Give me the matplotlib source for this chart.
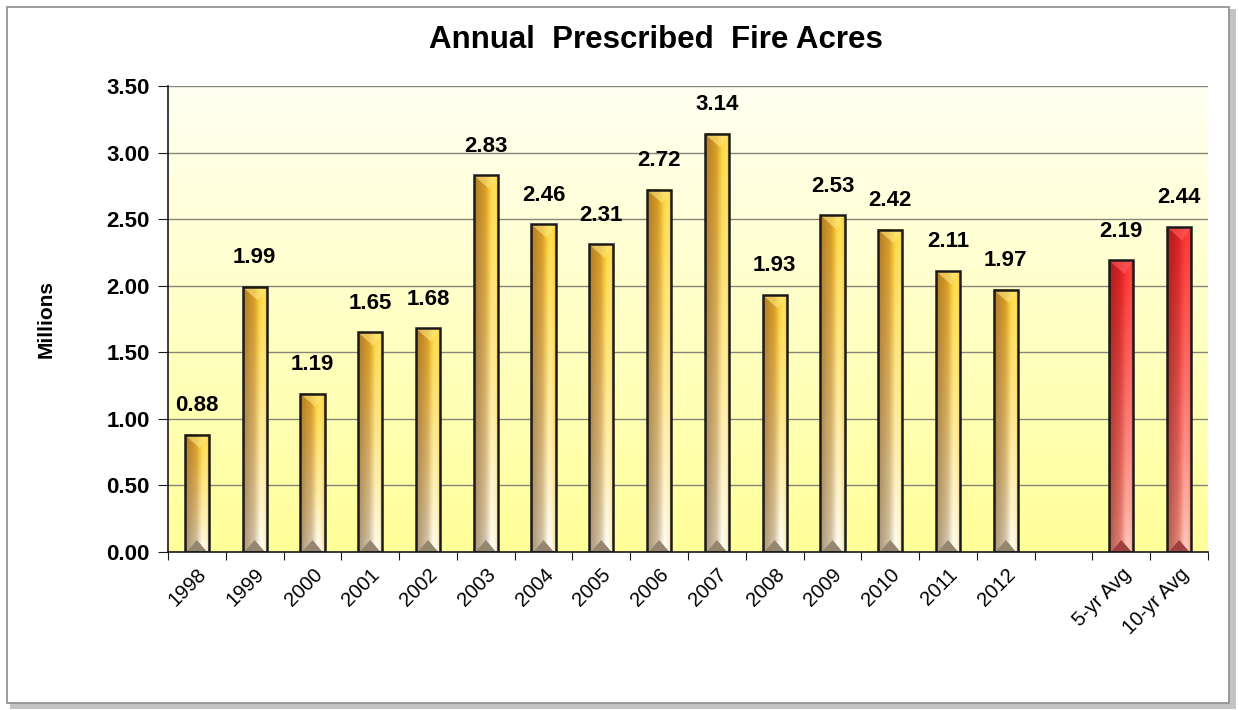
import matplotlib.pyplot as plt
import numpy as np
from matplotlib.patches import Rectangle, Polygon

categories = ['1998', '1999', '2000', '2001', '2002', '2003', '2004', '2005',
              '2006', '2007', '2008', '2009', '2010', '2011', '2012', '',
              '5-yr Avg', '10-yr Avg']
values = [0.88, 1.99, 1.19, 1.65, 1.68, 2.83, 2.46, 2.31, 2.72, 3.14,
          1.93, 2.53, 2.42, 2.11, 1.97, None, 2.19, 2.44]
is_avg = [False] * 15 + [False, True, True]

fig = plt.figure(figsize=(12.39, 7.10), dpi=100)
fig.patch.set_facecolor('white')

# outer frame with a soft shadow (behind the axes)
fig.patches.append(Rectangle((10 / 1239, 1 / 710), 1226 / 1239, 700 / 710,
                             transform=fig.transFigure, fc='#c4c4c4', ec='none', zorder=-2))
fig.patches.append(Rectangle((7 / 1239, 7 / 710), 1222 / 1239, 696 / 710,
                             transform=fig.transFigure, fc='white', ec='#8c8c8c', lw=1.2, zorder=-1))

ax = fig.add_axes([168 / 1239, 1 - 552 / 710, 1040 / 1239, 466 / 710])
n = len(categories)
ax.set_xlim(0, n)
ax.set_ylim(0, 3.5)

# background gradient: yellow at bottom, nearly white at top
t = np.linspace(0, 1, 256).reshape(-1, 1, 1)
bg = np.array([1.0, 1.0, 0.60]) * (1 - t) + np.array([1.0, 1.0, 0.95]) * t
ax.imshow(bg, aspect='auto', extent=[0, n, 0, 3.5], origin='lower', zorder=0)

for y in np.arange(0.5, 3.51, 0.5):
    ax.axhline(y, color='#85857a', lw=1.0, zorder=1)


def bar_shading(avg):
    # horizontal profile at the top and the bottom of a bar, blended vertically
    xs = [0.0, 0.45, 0.7, 0.85, 1.0]
    if avg:
        top = ['#a81c1c', '#d82020', '#ff3030', '#ff4040', '#ff1818']
        bot = ['#b06050', '#e08878', '#ffd0c0', '#ffc8b8', '#ff9080']
    else:
        top = ['#b07a28', '#d89c20', '#ffd840', '#ffe060', '#ffc400']
        bot = ['#a89478', '#d0c4b0', '#ffffff', '#fff8e0', '#e8d8b0']
    h = np.linspace(0, 1, 80)

    def prof(cols):
        rgb = np.array([[int(c[k:k + 2], 16) / 255 for k in (1, 3, 5)] for c in cols])
        return np.stack([np.interp(h, xs, rgb[:, j]) for j in range(3)], axis=-1)

    ptop, pbot = prof(top), prof(bot)
    v = np.linspace(0, 1, 200).reshape(-1, 1, 1) ** 0.8
    return pbot[None] * (1 - v) + ptop[None] * v


bw = 0.42
for i, v in enumerate(values):
    if v is None:
        continue
    x0 = i + 0.5 - bw / 2
    ax.imshow(bar_shading(is_avg[i]), aspect='auto', extent=[x0, x0 + bw, 0, v],
              origin='lower', zorder=2, interpolation='bilinear')
    # small bevel triangles at the foot and the top of the bar
    ax.add_patch(Polygon([(x0 + 0.03, 0.0), (x0 + bw - 0.03, 0.0), (i + 0.5, 0.09)],
                         closed=True, fc='#958670' if not is_avg[i] else '#a04040',
                         ec='none', zorder=2.5))
    ax.add_patch(Polygon([(x0, v), (x0 + bw, v), (i + 0.5 + 0.05, v - 0.1)],
                         closed=True, fc='#ffe880' if not is_avg[i] else '#ff6060',
                         ec='none', alpha=0.6, zorder=2.5))
    ax.add_patch(Rectangle((x0, 0), bw, v, fill=False, ec='#1a1a1a', lw=1.8, zorder=3))
    ax.text(i + 0.5, v + 0.14, f'{v:.2f}', ha='center', va='bottom',
            fontsize=16, fontweight='bold', family='Liberation Sans', zorder=4)

ax.set_xticks(np.arange(0, n + 1))
ax.set_xticklabels([])
ax.set_xticks(np.arange(n) + 0.5, minor=True)
ax.set_xticklabels(categories, minor=True, rotation=45, ha='right',
                   rotation_mode='anchor', fontsize=14.5, family='Liberation Sans')
ax.tick_params(axis='x', which='minor', length=0, pad=9)
ax.tick_params(axis='x', which='major', length=6, direction='out', color='#1a1a1a')

ax.set_yticks(np.arange(0, 3.51, 0.5))
ax.set_yticklabels([f'{t:.2f}' for t in np.arange(0, 3.51, 0.5)],
                   fontsize=16, fontweight='bold', family='Liberation Sans')
ax.tick_params(axis='y', length=7, direction='out', color='#1a1a1a', pad=6)

for s in ['top', 'right']:
    ax.spines[s].set_visible(False)
ax.spines['left'].set_color('#1a1a1a')
ax.spines['bottom'].set_color('#1a1a1a')
ax.spines['left'].set_linewidth(1.2)
ax.spines['bottom'].set_linewidth(1.2)

ax.set_ylabel('Millions', fontsize=15, fontweight='bold', family='Liberation Sans')
ax.yaxis.set_label_coords(-112 / 1040, 0.5)
fig.text(656 / 1239, 1 - 40 / 710, 'Annual  Prescribed  Fire Acres', ha='center', va='center',
         fontsize=22.5, fontweight='bold', family='Liberation Sans')

fig.savefig('out.png', dpi=100, facecolor='white')
